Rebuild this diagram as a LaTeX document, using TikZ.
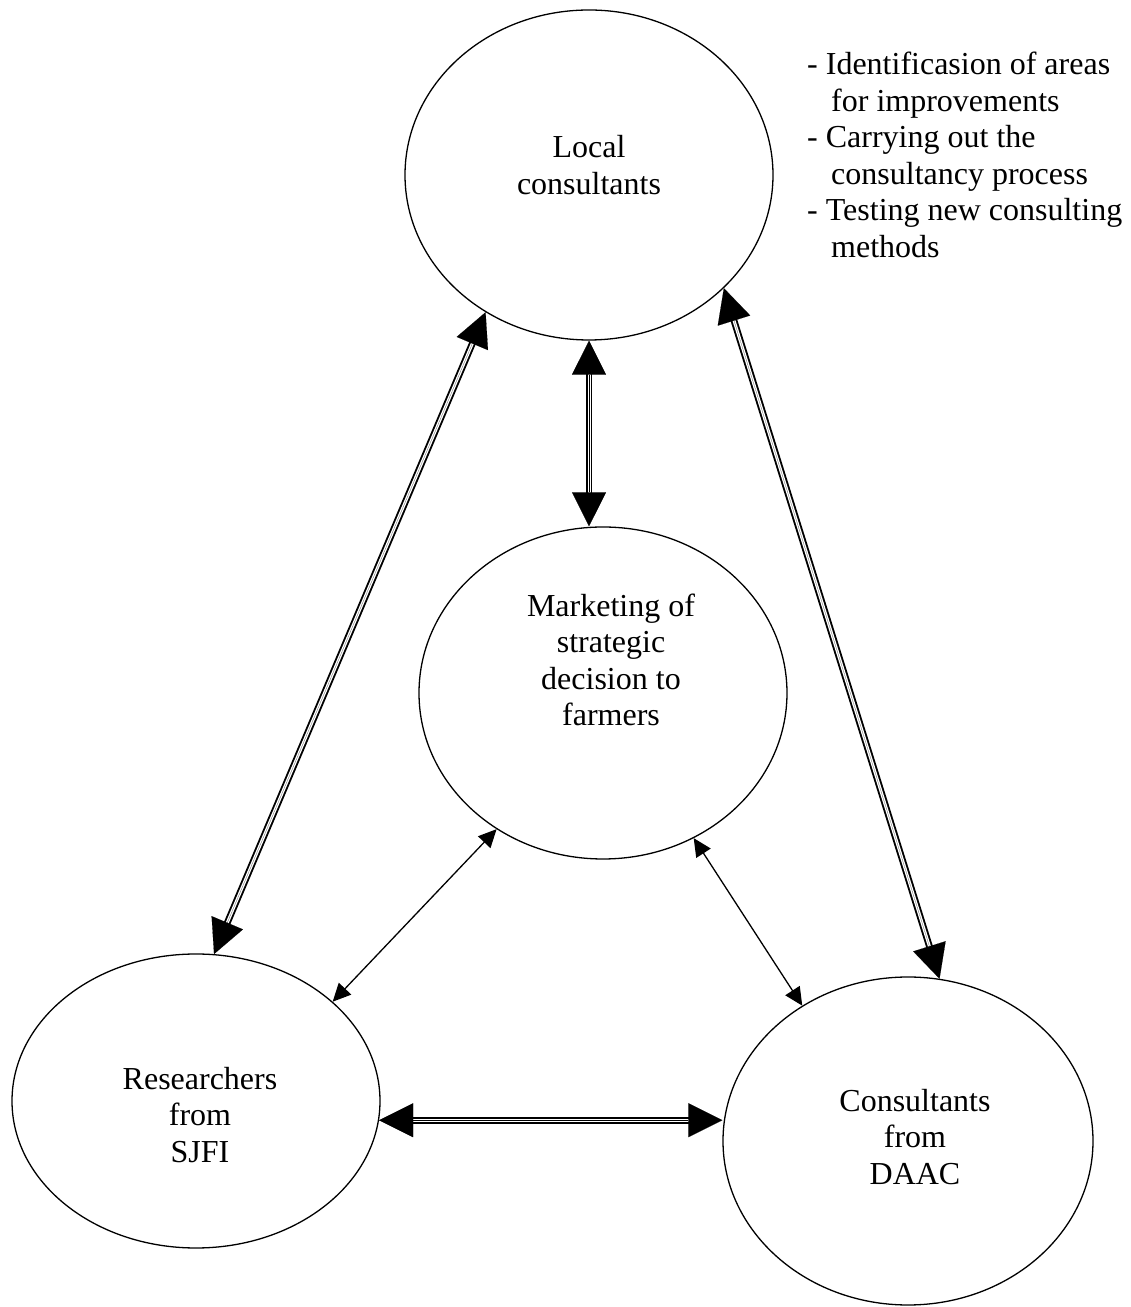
\documentclass[tikz,border=0pt]{standalone}
\usepackage{fontspec}
\setmainfont{Liberation Serif}
\usetikzlibrary{shapes.geometric,arrows.meta}
\begin{document}
\begin{tikzpicture}[x=1pt,y=1pt,
  ell/.style={draw, ellipse, line width=1.3pt, inner sep=0pt},
  txt/.style={align=center, font=\fontsize{32}{36.5}\selectfont, inner sep=0pt},
  dbl/.style={double, line width=1.9pt, double distance=3pt, shorten <=32pt, shorten >=32pt},
  bighead/.style={line width=0.1pt, {Triangle[length=34pt,width=34pt]}-{Triangle[length=34pt,width=34pt]}},
  thinarrow/.style={line width=1.3pt, {Triangle[length=18pt,width=17pt]}-{Triangle[length=18pt,width=17pt]}}]
\useasboundingbox (0,0) rectangle (1131,1307);
% ellipses
\node[ell, minimum width=368pt, minimum height=330pt] (local) at (589,1132) {};
\node[ell, minimum width=368pt, minimum height=332pt] (market) at (603,614) {};
\node[ell, minimum width=368pt, minimum height=294pt] (res) at (196,206) {};
\node[ell, minimum width=370pt, minimum height=328pt] (daac) at (908,166) {};
% texts
\node[txt] (localtxt) at (589,1142) {Local\\consultants};
\node[txt] (markettxt) at (611,647) {Marketing of\\strategic\\decision to\\farmers};
\node[txt] (restxt) at (200,192) {Researchers\\from\\SJFI};
\node[txt] (daactxt) at (915,170) {Consultants\\from\\DAAC};
\node[txt, align=left, anchor=north west] (tasks) at (807,1255)
  {- Identificasion of areas\\\hspace*{0.75em}for improvements\\- Carrying out the\\\hspace*{0.75em}consultancy process\\- Testing new consulting\\\hspace*{0.75em}methods};
% connectors
\coordinate (lA) at (local.233.5);
\coordinate (rA) at (res.83.8);
\draw[dbl] (lA) -- (rA);
\draw[bighead] (lA) -- (rA);
\coordinate (lB) at (local.south);
\coordinate (mB) at (lB |- market.north);
\draw[dbl] (lB) -- (mB);
\draw[bighead] (lB) -- (mB);
\coordinate (lC) at (local.320.2);
\coordinate (dC) at (daac.79.3);
\draw[dbl] (lC) -- (dC);
\draw[bighead] (lC) -- (dC);
\coordinate (rD) at (res.354.6);
\coordinate (dD) at (rD -| daac.west);
\draw[dbl] (rD) -- (dD);
\draw[bighead] (rD) -- (dD);
\draw[thinarrow] (market.232.3) -- (res.36.6);
\draw[thinarrow] (market.302) -- (daac.128.9);
\end{tikzpicture}
\end{document}
